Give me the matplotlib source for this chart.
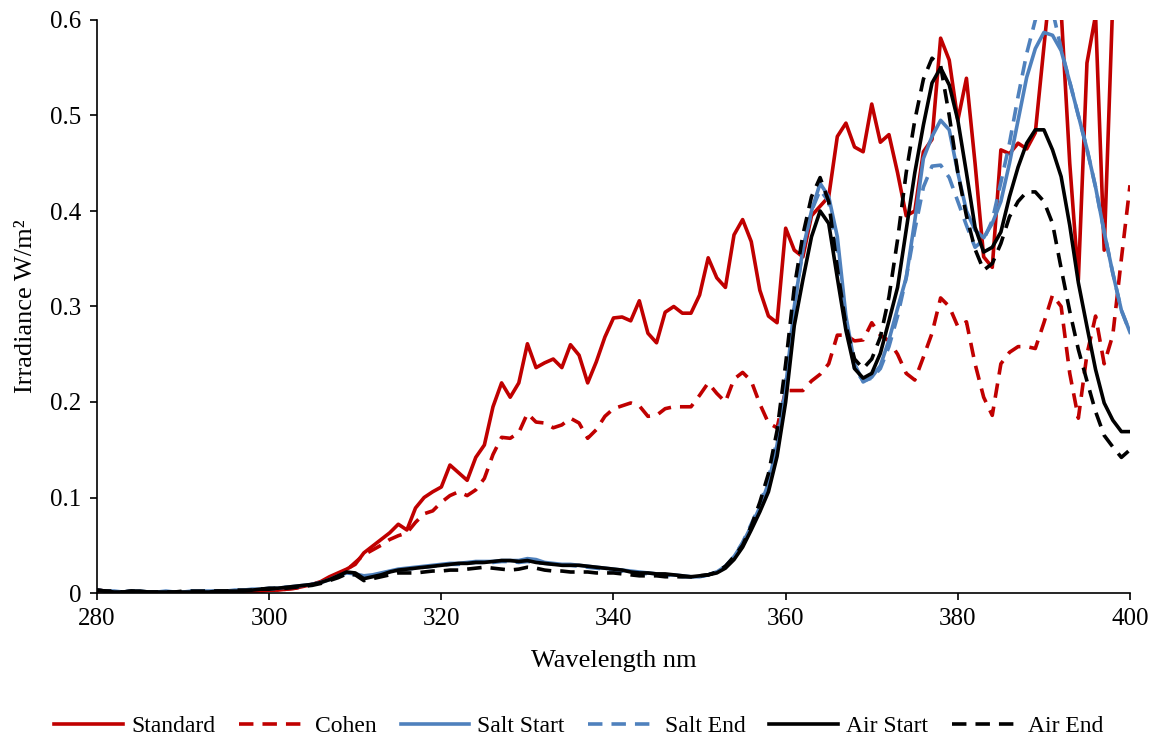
import numpy as np
import matplotlib
matplotlib.use("Agg")
import matplotlib.pyplot as plt
from matplotlib.ticker import FuncFormatter, MultipleLocator

plt.rcParams['font.family'] = ['Liberation Serif', 'DejaVu Serif']

wavelength = np.arange(280, 401)

standard = [
    0.003, 0.002, 0.001, 0.001, 0.0, 0.001, 0.0, 0.0, 0.0, 0.0,
    0.0, 0.0, 0.0, 0.0, 0.0, 0.0, 0.001, 0.001, 0.001, 0.002, 0.003,
    0.003, 0.004, 0.005, 0.007, 0.009, 0.012, 0.017, 0.021, 0.025, 0.03,
    0.042, 0.049, 0.056, 0.063, 0.072, 0.066, 0.089, 0.1, 0.106, 0.111,
    0.134, 0.126, 0.118, 0.142, 0.155, 0.195, 0.22, 0.205, 0.22, 0.261,
    0.236, 0.241, 0.245, 0.236, 0.26, 0.249, 0.22, 0.242, 0.268, 0.288,
    0.289, 0.285, 0.306, 0.272, 0.262, 0.294, 0.3, 0.293, 0.293, 0.312,
    0.351, 0.33, 0.32, 0.375, 0.391, 0.368, 0.317, 0.29, 0.283, 0.382,
    0.359, 0.352, 0.395, 0.405, 0.415, 0.478, 0.492, 0.467, 0.462, 0.512,
    0.472, 0.48, 0.44, 0.395, 0.4, 0.462, 0.475, 0.581, 0.558, 0.495,
    0.539, 0.45, 0.352, 0.341, 0.464, 0.46, 0.471, 0.465, 0.482, 0.572,
    0.66, 0.61, 0.45, 0.328, 0.555, 0.605, 0.359, 0.62, 0.7, 0.75,
]

cohen = [
    0.002, 0.001, 0.001, 0.0, 0.001, 0.0, 0.0, 0.0, 0.0, 0.0,
    0.0, 0.001, 0.0, 0.0, 0.0, 0.001, 0.001, 0.001, 0.002, 0.002, 0.003,
    0.003, 0.004, 0.005, 0.007, 0.009, 0.011, 0.015, 0.019, 0.024, 0.032,
    0.04, 0.045, 0.05, 0.056, 0.06, 0.063, 0.074, 0.083, 0.086, 0.095,
    0.102, 0.106, 0.102, 0.108, 0.12, 0.145, 0.163, 0.162, 0.168, 0.188,
    0.179, 0.178, 0.173, 0.176, 0.183, 0.178, 0.162, 0.171, 0.185, 0.193,
    0.196, 0.199, 0.196, 0.185, 0.186, 0.193, 0.195, 0.195, 0.195, 0.207,
    0.22, 0.209, 0.2, 0.224, 0.231, 0.222, 0.198, 0.178, 0.173, 0.212,
    0.212, 0.212, 0.222, 0.229, 0.24, 0.27, 0.27, 0.264, 0.265, 0.283,
    0.27, 0.264, 0.25, 0.23, 0.223, 0.247, 0.272, 0.309, 0.3, 0.279,
    0.284, 0.24, 0.205, 0.186, 0.24, 0.252, 0.258, 0.258, 0.256, 0.283,
    0.312, 0.3, 0.23, 0.183, 0.25, 0.29, 0.24, 0.27, 0.35, 0.427,
]

salt_start = [
    0.003, 0.002, 0.002, 0.001, 0.002, 0.002, 0.001, 0.001, 0.002, 0.001,
    0.001, 0.002, 0.002, 0.002, 0.002, 0.002, 0.003, 0.003, 0.004, 0.004, 0.005,
    0.005, 0.006, 0.007, 0.008, 0.009, 0.011, 0.014, 0.018, 0.021, 0.02,
    0.018, 0.019, 0.021, 0.023, 0.025, 0.026, 0.027, 0.028, 0.029, 0.03,
    0.031, 0.031, 0.032, 0.033, 0.033, 0.033, 0.034, 0.034, 0.034, 0.036,
    0.035, 0.032, 0.031, 0.03, 0.03, 0.029, 0.028, 0.027, 0.026, 0.025,
    0.024, 0.023, 0.022, 0.021, 0.02, 0.019, 0.019, 0.018, 0.017, 0.017,
    0.019, 0.022, 0.028, 0.038, 0.052, 0.07, 0.09, 0.115, 0.155, 0.215,
    0.3, 0.36, 0.4, 0.429, 0.415, 0.373, 0.29, 0.24, 0.221, 0.226,
    0.238, 0.265, 0.298, 0.33, 0.39, 0.455, 0.478, 0.495, 0.485, 0.44,
    0.4, 0.38, 0.372, 0.387, 0.41, 0.45, 0.495, 0.54, 0.57, 0.587,
    0.584, 0.568, 0.535, 0.5, 0.465, 0.425, 0.378, 0.335, 0.296, 0.273,
]

salt_end = [
    0.003, 0.002, 0.001, 0.001, 0.002, 0.001, 0.001, 0.001, 0.001, 0.001,
    0.001, 0.002, 0.002, 0.002, 0.002, 0.002, 0.002, 0.003, 0.003, 0.004, 0.004,
    0.005, 0.006, 0.006, 0.007, 0.009, 0.011, 0.014, 0.017, 0.02, 0.019,
    0.017, 0.018, 0.02, 0.022, 0.024, 0.025, 0.026, 0.027, 0.028, 0.029,
    0.03, 0.03, 0.031, 0.032, 0.032, 0.032, 0.033, 0.033, 0.032, 0.033,
    0.032, 0.031, 0.03, 0.029, 0.029, 0.028, 0.027, 0.026, 0.025, 0.024,
    0.023, 0.022, 0.021, 0.02, 0.019, 0.019, 0.018, 0.017, 0.017, 0.017,
    0.019, 0.022, 0.028, 0.038, 0.053, 0.072, 0.092, 0.12, 0.16, 0.22,
    0.3, 0.36, 0.4, 0.422, 0.41, 0.36, 0.285, 0.235, 0.222, 0.225,
    0.235, 0.258, 0.29, 0.33, 0.38, 0.425, 0.447, 0.448, 0.435, 0.41,
    0.385, 0.362, 0.37, 0.39, 0.43, 0.471, 0.52, 0.565, 0.6, 0.62,
    0.61, 0.57, 0.535, 0.5, 0.465, 0.425, 0.378, 0.335, 0.296, 0.273,
]

air_start = [
    0.003, 0.002, 0.001, 0.001, 0.002, 0.002, 0.001, 0.001, 0.001, 0.001,
    0.001, 0.001, 0.001, 0.001, 0.002, 0.002, 0.002, 0.002, 0.003, 0.004, 0.005,
    0.005, 0.006, 0.007, 0.008, 0.009, 0.011, 0.014, 0.018, 0.022, 0.021,
    0.015, 0.017, 0.019, 0.022, 0.024, 0.025, 0.026, 0.027, 0.028, 0.029,
    0.03, 0.031, 0.031, 0.032, 0.032, 0.033, 0.034, 0.034, 0.033, 0.034,
    0.032, 0.031, 0.03, 0.029, 0.029, 0.029, 0.028, 0.027, 0.026, 0.025,
    0.024, 0.022, 0.021, 0.021, 0.02, 0.02, 0.019, 0.018, 0.017, 0.018,
    0.019, 0.021, 0.026, 0.035, 0.048, 0.066, 0.085, 0.106, 0.143, 0.2,
    0.28, 0.328, 0.373, 0.4, 0.387, 0.33, 0.275, 0.235, 0.225, 0.23,
    0.251, 0.285, 0.32, 0.38, 0.44, 0.49, 0.534, 0.55, 0.532, 0.495,
    0.44, 0.383, 0.357, 0.362, 0.378, 0.415, 0.446, 0.471, 0.485, 0.485,
    0.464, 0.436, 0.385, 0.325, 0.279, 0.234, 0.199, 0.181, 0.169, 0.169,
]

air_end = [
    0.003, 0.002, 0.002, 0.001, 0.002, 0.001, 0.001, 0.001, 0.001, 0.001,
    0.002, 0.002, 0.002, 0.002, 0.002, 0.002, 0.003, 0.003, 0.003, 0.004, 0.004,
    0.005, 0.005, 0.006, 0.007, 0.008, 0.01, 0.013, 0.016, 0.02, 0.019,
    0.013, 0.015, 0.017, 0.019, 0.021, 0.021, 0.021, 0.022, 0.023, 0.023,
    0.024, 0.024, 0.025, 0.026, 0.027, 0.026, 0.025, 0.024, 0.025, 0.027,
    0.026, 0.024, 0.023, 0.023, 0.022, 0.022, 0.022, 0.021, 0.021, 0.021,
    0.02, 0.019, 0.018, 0.018, 0.018, 0.017, 0.017, 0.017, 0.017, 0.018,
    0.019, 0.022, 0.028, 0.038, 0.05, 0.07, 0.095, 0.125, 0.17, 0.24,
    0.32, 0.375, 0.415, 0.435, 0.41, 0.34, 0.28, 0.245, 0.235, 0.245,
    0.268, 0.31, 0.37, 0.44, 0.495, 0.538, 0.56, 0.552, 0.5, 0.44,
    0.395, 0.36, 0.338, 0.345, 0.366, 0.394, 0.41, 0.42, 0.42, 0.41,
    0.387, 0.34, 0.295, 0.255, 0.222, 0.19, 0.165, 0.153, 0.142, 0.15,
]

red = '#C00000'
blue = '#4F81BD'
black = '#000000'
dash = (4, 2.5)

series = [
    ('Standard', standard, red, '-'),
    ('Cohen', cohen, red, '--'),
    ('Salt Start', salt_start, blue, '-'),
    ('Salt End', salt_end, blue, '--'),
    ('Air Start', air_start, black, '-'),
    ('Air End', air_end, black, '--'),
]

fig = plt.figure(figsize=(11.58, 7.40), dpi=100)
ax = fig.add_axes([97 / 1158, 1 - 593 / 740, (1130 - 97) / 1158, (593 - 20) / 740])

for name, vals, col, ls in series:
    line, = ax.plot(wavelength, vals, color=col, lw=2.6, label=name)
    if ls == '--':
        line.set_dashes(dash)

ax.set_xlim(280, 400)
ax.set_ylim(0, 0.6)
ax.xaxis.set_major_locator(MultipleLocator(20))
ax.yaxis.set_major_locator(MultipleLocator(0.1))
ax.yaxis.set_major_formatter(FuncFormatter(lambda v, p: '0' if abs(v) < 1e-9 else f'{v:.1f}'))

for side in ('top', 'right'):
    ax.spines[side].set_visible(False)
for side in ('left', 'bottom'):
    ax.spines[side].set_linewidth(1.2)

ax.tick_params(direction='out', length=5, width=1.2, labelsize=18, pad=6)
ax.set_xlabel('Wavelength nm', fontsize=19, labelpad=14)
ax.set_ylabel('Irradiance W/m²', fontsize=19, labelpad=10)

fig.legend(loc='center', bbox_to_anchor=(0.5, 1 - 726 / 740), ncol=6, frameon=False,
           fontsize=17, handlelength=2.9, handletextpad=0.35, columnspacing=1.0)

fig.savefig('out.png', dpi=100)
